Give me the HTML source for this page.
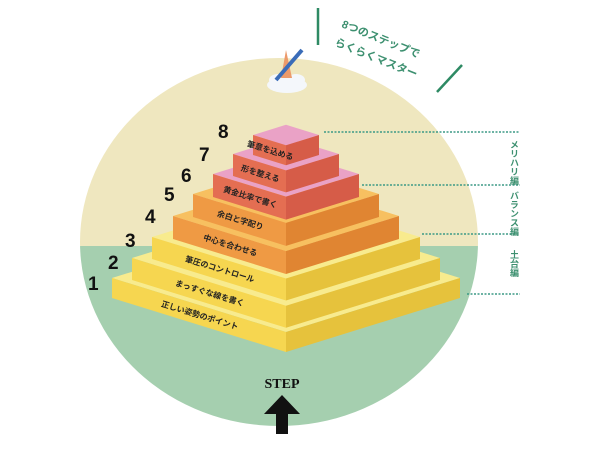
<!DOCTYPE html>
<html><head><meta charset="utf-8"><style>
html,body{margin:0;padding:0;background:#fff;width:600px;height:450px;overflow:hidden}
svg{display:block}
text{font-family:"Liberation Sans","Noto Sans CJK JP",sans-serif}
</style></head><body>
<svg width="600" height="450" viewBox="0 0 600 450" xmlns="http://www.w3.org/2000/svg">
<defs>
<clipPath id="c"><ellipse cx="279" cy="242" rx="199" ry="184"/></clipPath>
</defs>
<g clip-path="url(#c)">
<rect x="0" y="0" width="600" height="246" fill="#efe7bf"/>
<rect x="0" y="246" width="600" height="220" fill="#a5cfaf"/>
</g>
<line x1="318" y1="8" x2="318" y2="45" stroke="#2e8a64" stroke-width="2.5"/>
<line x1="437" y1="92" x2="462" y2="65" stroke="#2e8a64" stroke-width="2.5"/>
<g fill="#3d9070" font-size="11" font-weight="bold">
<text transform="translate(341,27) rotate(22)">8つのステップで</text>
<text transform="translate(334,45) rotate(22)">らくらくマスター</text>
</g>
<ellipse cx="287" cy="85" rx="20" ry="8" fill="#f4f7fb"/>
<ellipse cx="278" cy="80" rx="9" ry="6" fill="#f4f7fb"/>
<ellipse cx="296" cy="80" rx="9" ry="6" fill="#f4f7fb"/>
<polygon points="281,78 286,50 292,78" fill="#ec9a6a"/>
<line x1="276" y1="80" x2="302" y2="50" stroke="#3a6cb8" stroke-width="4"/>
<g id="pyr"></g>
<g stroke="#3d9a86" stroke-width="1.5" stroke-dasharray="2,1.5">
<line x1="324" y1="132" x2="520" y2="132"/>
<line x1="362" y1="185" x2="520" y2="185"/>
<line x1="422" y1="234" x2="520" y2="234"/>
<line x1="467" y1="294" x2="520" y2="294"/>
</g>
<g fill="#3d9070" font-size="9" font-weight="bold" style="writing-mode:vertical-rl">
<text x="514" y="140">メリハリ編</text>
<text x="514" y="191">バランス編</text>
<text x="514" y="250">土台編</text>
</g>
<g font-size="19" font-weight="bold" fill="#111">
<text x="88" y="290">1</text><text x="108" y="269">2</text><text x="125" y="247">3</text>
<text x="145" y="223">4</text><text x="164" y="201">5</text><text x="181" y="182">6</text>
<text x="199" y="161">7</text><text x="218" y="138">8</text>
</g>
<text x="282" y="388" text-anchor="middle" style="font-family:'Liberation Serif',serif" font-weight="bold" font-size="14" fill="#111">STEP</text>
<polygon points="282,395 300,414 288,414 288,434 276,434 276,414 264,414" fill="#111"/>
</svg>
<script>
var tiers=[
[174,278,20,'#f8eb8e','#f6d650','#e6c23c','正しい姿勢のポイント'],
[154,258,22,'#f8eb8e','#f6d650','#e6c23c','まっすぐな線を書く'],
[134,237,22,'#f8eb8e','#f6d650','#e6c23c','筆圧のコントロール'],
[113,216,23,'#f7c060','#ef9a44','#e08532','中心を合わせる'],
[93,194,23,'#f7c060','#ef9a44','#e08532','余白と字配り'],
[73,174,23,'#eaa2c6','#e46e52','#d65c48','黄金比率で書く'],
[53,154,22,'#eaa2c6','#e46e52','#d65c48','形を整える'],
[33,135,20,'#eaa2c6','#e46e52','#d65c48','筆意を込める']];
var cx=286,k=0.31,g=document.getElementById('pyr'),h='';
tiers.forEach(function(t){
var w=t[0],y=t[1],th=t[2],d=w*k;
var L=[cx-w,y],F=[cx,y+d],R=[cx+w,y],B=[cx,y-d];
function p(a){return a.map(function(q){return q[0]+','+q[1]}).join(' ')}
h+='<polygon points="'+p([L,B,R,F])+'" fill="'+t[3]+'"/>';
h+='<polygon points="'+p([L,F,[F[0],F[1]+th],[L[0],L[1]+th]])+'" fill="'+t[4]+'"/>';
h+='<polygon points="'+p([F,R,[R[0],R[1]+th],[F[0],F[1]+th]])+'" fill="'+t[5]+'"/>';
var mx=cx-w/2,my=y+d/2+th/2+3;
h+='<text transform="translate('+mx+','+my+') rotate(17)" text-anchor="middle" font-size="8" font-weight="bold" fill="#222">'+t[6]+'</text>';
});
g.innerHTML=h;
</script>
</body></html>
